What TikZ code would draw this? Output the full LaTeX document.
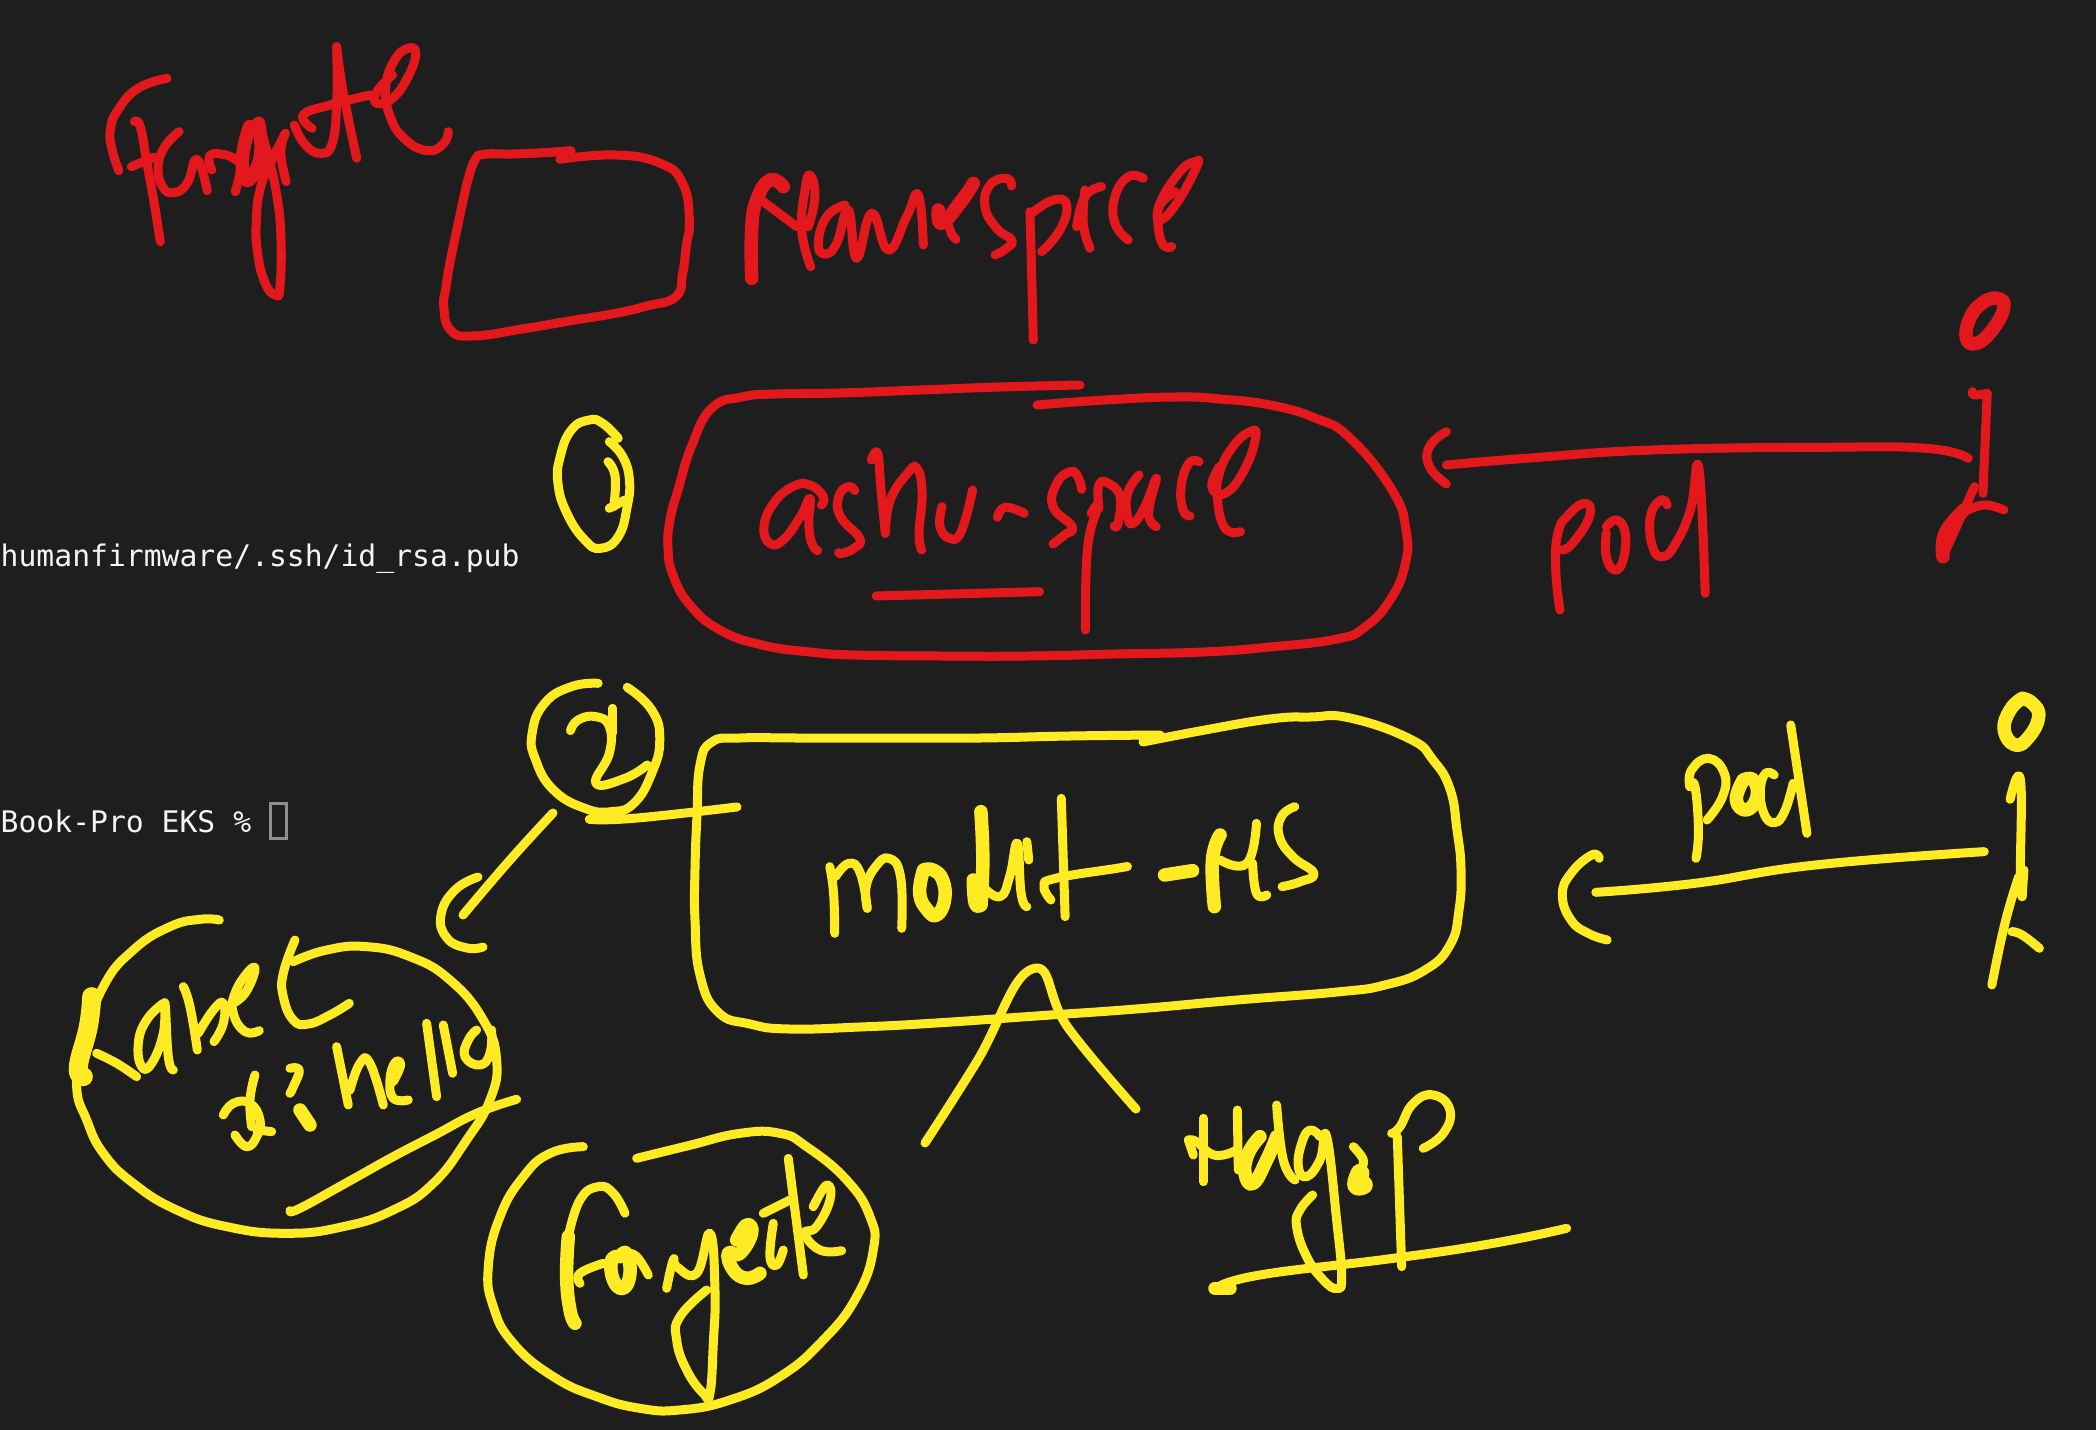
\documentclass[tikz,border=0pt]{standalone}
\usepackage{fontspec}
\setmonofont{DejaVu Sans Mono}
\definecolor{bgcol}{HTML}{1E1E1E}
\definecolor{redcol}{HTML}{E2181D}
\definecolor{yelcol}{HTML}{FFEB23}
\definecolor{termcol}{HTML}{F4F4F4}
\definecolor{curcol}{HTML}{8E8E8E}
\tikzset{
  redink/.style={draw=redcol,line width=0.09cm,line cap=round,line join=round},
  yelink/.style={draw=yelcol,line width=0.09cm,line cap=round,line join=round},
  fat/.style={line width=0.135cm},
  fatter/.style={line width=0.19cm},
  term/.style={text=termcol,font=\ttfamily\fontsize{8.45pt}{10pt}\selectfont,inner sep=0pt,anchor=base west}
}
\newcommand\redst[2][]{\draw[redink,#1] plot[smooth,tension=.8] coordinates {#2};}
\newcommand\yelst[2][]{\draw[yelink,#1] plot[smooth,tension=.8] coordinates {#2};}
\begin{document}
\begin{tikzpicture}[x=0.01cm,y=-0.01cm]
\fill[bgcol] (0,0) rectangle (2096,1430);
\useasboundingbox (0,0) rectangle (2096,1430);
% terminal text
\node[term] (sshline) at (0,566) {humanfirmware/.ssh/id\_rsa.pub};
\node[term] (promptline) at (0,832) {Book-Pro EKS \%};
\draw[curcol,line width=0.03cm] (270,803) rectangle (286,838);

% --- Fargate and namespace box
\begin{scope}[shift={(80,20)},xscale=0.4464,yscale=0.3333]
\redst{(195,175)(130,205)(85,270)(68,330)(72,390)(87,452)}
\redst{(122,305)(135,320)(150,430)(165,540)(180,665)}
\redst{(115,440)(165,412)}
\redst{(222,335)(190,380)(175,440)(185,500)(210,518)(240,490)(262,418)(285,512)}
\redst{(295,450)(290,408)(320,403)(350,420)(360,440)(348,515)}
\redst[fat]{(380,320)(365,400)(368,470)(385,470)(405,400)(400,310)}
\redst{(400,310)(420,400)(440,520)(450,650)(448,800)(438,825)(415,790)(398,700)(395,600)(405,500)(430,420)(460,340)}
\redst{(460,340)(450,400)(462,485)}
\redst{(480,315)(505,375)(540,400)(565,370)(575,250)(575,80)}
\redst{(575,80)(590,220)(620,415)}
\redst{(520,325)(500,285)(560,255)(650,225)}
\redst{(700,165)(665,215)(665,250)(700,235)(735,170)(752,100)(735,85)(705,120)(685,200)(695,290)(730,360)(780,392)(815,370)(825,335)}
\redst{(1100,392)(1040,398)(970,402)(905,403)(885,420)(870,475)(860,530)(845,625)(830,720)(820,800)(815,860)(830,930)(880,948)(1000,925)(1100,902)(1200,880)(1270,858)(1335,830)(1350,760)(1358,680)(1365,600)(1350,490)(1300,430)(1200,405)(1075,418)}
\end{scope}

% --- Namespace
\begin{scope}[shift={(720,130)},xscale=0.3333,yscale=0.3333]
\redst[fat]{(95,445)(95,300)(110,210)(150,150)(190,170)}
\redst{(110,200)(230,290)}
\redst{(272,410)(245,300)(255,180)(270,135)(285,200)(265,290)}
\redst{(375,225)(320,260)(295,340)(315,372)(350,340)(385,240)(410,385)(455,250)(505,360)(560,260)(595,195)(610,345)}
\redst[fat]{(655,240)(665,280)(720,220)(760,160)}
\redst{(760,160)(690,250)(690,300)(708,328)}
\redst{(875,168)(860,145)(810,165)(795,230)(830,295)(875,330)(860,355)(825,375)}
\redst{(930,245)(935,430)(940,630)}
\redst{(935,250)(1000,210)(1040,225)(1020,300)(965,365)}
\redst{(1145,170)(1095,200)(1070,290)}
\redst{(1095,180)(1090,280)(1110,355)}
\redst{(1270,145)(1225,140)(1185,200)(1185,280)(1225,330)}
\redst{(1365,185)(1320,225)(1320,270)(1370,220)(1430,110)(1425,95)(1380,125)(1320,220)(1315,290)(1330,345)(1355,350)}
\end{scope}

% --- outline of ashu-space
\redst{(1080,385)(1000,387)(920,390)(840,393)(775,394)(742,397)(712,408)(692,445)(678,490)(670,520)(668,548)(673,575)(690,605)(720,630)(762,645)(810,652)(855,655)(940,656)(1029,656)(1115,654)(1203,652)(1270,647)(1337,639)(1365,627)(1390,600)(1405,565)(1406,530)(1392,490)(1350,438)(1315,418)(1270,405)(1220,399)(1176,397)(1105,400)(1037,405)}

% --- ashu-space
\begin{scope}[shift={(720,400)},xscale=0.3827,yscale=0.3333]
\redst{(265,315)(270,290)(235,255)(190,260)(140,310)(115,380)(130,430)(165,420)(210,350)(235,295)(232,370)(240,430)(255,452)}
\redst{(352,272)(335,260)(310,290)(315,350)(365,415)(350,445)(320,460)(310,458)}
\redst{(395,180)(412,160)(420,260)(432,400)}
\redst{(432,400)(445,300)(490,220)(515,205)(528,280)(520,400)(527,450)}
\redst{(580,320)(575,380)(600,415)(630,395)(660,270)}
\redst{(725,352)(745,322)(795,340)}
\redst{(945,268)(935,230)(915,215)(880,250)(870,320)(920,380)(900,405)(870,432)}
\redst{(970,340)(985,325)(960,450)(955,690)}
\redst{(990,325)(990,255)(1015,250)(1045,290)(1040,370)(1030,378)}
\redst{(1095,225)(1065,280)(1065,350)(1080,370)(1110,320)(1140,235)(1120,340)(1140,380)}
\redst{(1252,185)(1225,190)(1205,260)(1210,330)(1228,348)}
\redst{(1305,200)(1285,260)(1320,280)(1370,210)(1400,110)(1385,95)(1340,140)(1305,220)(1300,300)(1320,385)(1360,395)}
\redst{(408,588)(835,575)}
\end{scope}

% --- red pod and figure
\begin{scope}[shift={(1400,270)},xscale=0.4209,yscale=0.3333]
\redst[fat]{(1395,90)(1360,130)(1345,200)(1370,220)(1410,175)(1435,110)(1420,85)(1395,90)}
\redst{(1360,365)(1365,375)(1395,370)}
\redst{(1395,370)(1385,670)}
\redst{(1365,650)(1340,720)(1290,860)}
\redst[fat]{(1340,720)(1295,790)(1290,860)}
\redst{(1350,720)(1390,705)(1435,720)}
\redst{(110,585)(300,565)(600,540)(1000,532)(1250,535)(1350,565)}
\redst{(110,485)(70,530)(70,590)(110,642)}
\redst{(380,1020)(370,900)(375,790)(400,735)(440,700)(450,740)(410,820)(385,840)}
\redst{(490,770)(515,750)(535,790)(530,870)(510,900)(490,860)(490,790)}
\redst{(635,705)(620,690)(595,740)(600,830)(625,860)(655,820)(690,720)(710,595)(725,970)}
\end{scope}

% --- numbered circles
\begin{scope}[shift={(0,400)},xscale=0.4464,yscale=0.3333]
\yelst{(1385,115)(1350,70)(1320,60)(1280,90)(1255,170)(1250,250)(1270,340)(1310,420)(1345,445)(1385,410)(1405,320)(1410,240)(1395,170)(1365,125)}
\yelst{(1362,185)(1378,230)(1375,320)}
\yelst{(1365,325)(1400,300)}
\yelst{(1340,850)(1280,860)(1220,910)(1192,1000)(1200,1080)(1240,1170)(1310,1225)(1370,1235)(1420,1210)(1460,1120)(1478,1020)(1460,930)(1405,862)}
\yelst{(1278,992)(1295,960)(1335,950)(1365,980)(1365,1060)(1335,1150)(1400,1135)(1450,1095)}
\yelst{(1372,925)(1372,1000)}
\yelst{(1320,1258)(1420,1255)(1651,1221)}
\end{scope}

% --- connector to label circle
\yelst{(553,813)(510,860)(463,915)}
\yelst{(478,877)(455,890)(441,915)(447,938)(467,948)(483,947)}

% --- outline of modult-MS
\yelst{(1160,735)(1070,736)(980,738)(890,738)(800,738)(740,738)(712,742)(700,765)(697,815)(695,869)(695,920)(700,975)(718,1012)(750,1024)(789,1029)(860,1027)(936,1023)(1036,1016)(1136,1009)(1237,1000)(1337,992)(1385,985)(1425,970)(1450,945)(1459,910)(1461,869)(1457,830)(1450,789)(1433,760)(1410,739)(1350,718)(1310,717)(1270,719)(1205,730)(1143,742)}
\yelst{(925,1143)(976,1063)(1032,969)(1069,1029)(1136,1109)}

% --- modult-MS
\begin{scope}[shift={(780,760)},xscale=0.3827,yscale=0.3333]
\yelst{(130,320)(140,400)(143,520)}
\yelst{(145,350)(180,310)(210,340)(228,445)}
\yelst{(228,445)(225,380)(250,320)(285,295)(315,350)(318,505)}
\yelst[fat]{(375,330)(365,400)(385,450)(410,465)(430,420)(425,360)(400,330)(375,330)}
\yelst[fat]{(525,155)(530,300)(525,435)}
\yelst[fat]{(505,360)(510,430)(525,435)}
\yelst{(530,380)(575,410)(600,350)(620,250)(630,400)(645,440)}
\yelst{(645,245)(650,300)}
\yelst{(735,115)(745,470)}
\yelst{(708,420)(690,380)(720,355)(880,325)(905,320)}
\yelst[fat]{(1005,345)(1078,332)}
\yelst[fat]{(1135,440)(1130,300)(1150,225)}
\yelst{(1150,300)(1220,310)(1245,190)}
\yelst{(1235,310)(1245,400)(1272,405)}
\yelst{(1345,140)(1310,170)(1305,230)(1340,290)(1395,340)(1360,365)(1312,380)}
\end{scope}

% --- yellow pod and figure
\begin{scope}[shift={(1540,680)},xscale=0.3444,yscale=0.3333]
\yelst{(162,637)(450,610)(800,555)(1290,515)}
\yelst{(172,535)(150,525)(90,580)(65,645)(90,720)(140,760)(195,780)}
\yelst{(453,535)(460,450)(450,320)(435,320)}
\yelst{(435,320)(440,270)(490,235)(535,280)(530,350)(485,420)}
\yelst[fat]{(590,300)(570,360)(600,390)(630,350)(620,300)(590,300)}
\yelst{(680,285)(655,280)(640,330)(650,400)(680,428)(710,395)(735,310)}
\yelst{(728,135)(775,460)}
\yelst[fat]{(1400,55)(1365,90)(1348,150)(1380,195)(1420,170)(1448,110)(1430,70)(1400,55)}
\yelst{(1365,358)(1395,300)(1395,580)(1400,650)}
\yelst{(1405,570)(1400,650)}
\yelst{(1390,590)(1350,730)(1312,915)}
\yelst{(1370,755)(1400,765)(1450,805)}
\end{scope}

% --- Label x: hello
\begin{scope}[shift={(60,900)},xscale=0.3333,yscale=0.3333]
\yelst{(478,60)(420,58)(330,80)(220,150)(130,260)(70,430)(50,560)(80,660)(130,760)(220,850)(350,930)(500,980)(680,1000)(850,980)(1000,930)(1120,850)(1220,720)(1290,600)(1310,480)(1270,360)(1170,240)(1050,170)(920,140)(800,150)(700,185)}
\yelst[fatter]{(95,290)(85,380)(55,500)(70,530)}
\yelst{(110,460)(170,490)(230,530)}
\yelst{(310,310)(260,360)(235,430)(245,500)(275,490)(310,400)(315,310)(325,470)(340,510)}
\yelst{(370,260)(390,320)(412,450)}
\yelst{(415,400)(460,330)(490,310)(490,370)(462,425)}
\yelst{(510,315)(555,280)(585,210)(565,215)(525,280)(520,340)(555,395)(598,392)}
\yelst{(705,120)(670,220)(670,290)(700,360)(745,372)(810,345)(868,310)}
\yelst{(490,645)(520,610)(570,610)(600,660)(590,710)(560,740)(525,705)}
\yelst{(585,525)(570,600)(575,680)}
\yelst{(590,690)(635,695)}
\yelst{(690,505)(718,510)(700,560)(690,580)}
\yelst[fat]{(720,630)(750,675)}
\yelst{(830,440)(865,615)}
\yelst{(870,570)(900,490)(930,490)(970,615)}
\yelst{(1000,545)(1022,495)(1005,488)(990,540)(1000,595)(1045,600)}
\yelst{(1100,370)(1130,590)}
\yelst{(1150,375)(1178,520)}
\yelst{(1250,390)(1225,420)(1215,470)(1260,495)(1290,460)(1295,390)}
\yelst{(690,932)(720,925)(860,848)(1000,770)(1125,705)(1250,640)(1370,598)}
\end{scope}

% --- Fargate circle
\begin{scope}[shift={(480,1110)},xscale=0.3333,yscale=0.3333]
\yelst{(310,110)(210,130)(130,200)(60,320)(25,470)(40,590)(100,700)(220,800)(350,860)(480,895)(600,900)(750,870)(900,800)(1030,690)(1130,560)(1180,420)(1170,320)(1100,210)(980,110)(900,70)(780,70)(625,107)(470,145)}
\yelst{(435,310)(400,250)(355,230)(300,270)(265,380)}
\yelst[fat]{(265,380)(260,500)(270,600)(285,640)}
\yelst{(300,520)(300,490)(370,460)}
\yelst[fat]{(420,440)(395,450)(400,510)(430,535)(450,490)(440,430)(420,440)}
\yelst{(440,430)(470,440)(505,495)}
\yelst{(560,535)(580,450)(590,470)(650,490)(690,370)(705,540)(700,700)(690,850)(670,850)(620,780)(590,690)(600,620)(680,540)}
\yelst[fat]{(770,390)(800,345)(815,370)(780,430)(745,430)(760,480)(800,505)(840,490)}
\yelst{(880,340)(870,440)(890,465)(910,420)}
\yelst{(850,310)(930,270)}
\yelst{(925,145)(970,495)}
\yelst{(1000,290)(1040,225)(1050,270)(1010,350)(975,370)(1020,420)(1085,422)}
\end{scope}

% --- Hdg: P
\begin{scope}[shift={(1160,1070)},xscale=0.3333,yscale=0.3333]
\yelst{(130,145)(130,335)}
\yelst{(85,210)(100,255)}
\yelst{(85,210)(110,215)(150,250)(190,255)(230,240)}
\yelst{(232,120)(235,300)}
\yelst[fat]{(300,200)(265,250)(255,310)(280,340)(320,270)(350,200)}
\yelst{(350,105)(370,270)(405,330)}
\yelst{(480,200)(450,180)(425,220)(415,290)(440,320)(480,270)(500,200)(530,450)(545,620)(530,655)(490,630)(440,560)(410,470)(420,420)(458,375)}
\yelst{(580,230)(610,270)(600,300)}
\yelst[fatter]{(600,310)(590,345)(610,345)}
\yelst{(725,590)(712,200)}
\yelst{(695,190)(720,170)(760,100)(820,75)(870,120)(850,190)(790,235)}
\yelst{(170,655)(300,615)(700,565)(1000,520)(1220,475)}
\yelst[fat]{(165,655)(210,655)}
\end{scope}
\end{tikzpicture}
\end{document}
